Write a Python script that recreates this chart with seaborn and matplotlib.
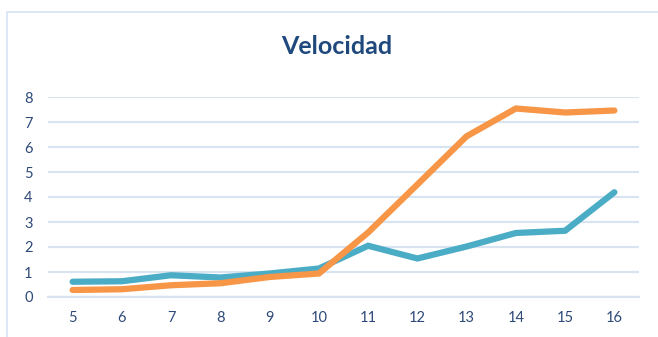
import matplotlib
matplotlib.use("Agg")
import matplotlib.pyplot as plt
import seaborn as sns
import pandas as pd
from matplotlib.patches import Rectangle
from matplotlib.ticker import FixedLocator

# Data
categories = [5, 6, 7, 8, 9, 10, 11, 12, 13, 14, 15, 16]
serie_azul = [0.61, 0.63, 0.87, 0.78, 0.94, 1.14, 2.05, 1.54, 2.02, 2.56, 2.65, 4.19]
serie_naranja = [0.28, 0.31, 0.47, 0.55, 0.80, 0.94, 2.58, 4.50, 6.43, 7.54, 7.38, 7.46]
y_ticks = [0, 1, 2, 3, 4, 5, 6, 7, 8]

sns.set_theme(style="white")
plt.rcParams["font.family"] = ["Lato", "DejaVu Sans"]

df = pd.DataFrame({
    "pos": list(range(len(categories))) * 2,
    "valor": serie_azul + serie_naranja,
    "serie": ["azul"] * len(categories) + ["naranja"] * len(categories),
})

fig = plt.figure(figsize=(6.58, 3.37), dpi=100)
fig.patch.set_facecolor("white")

# Chart-area frame
fig.add_artist(Rectangle((7 / 658, -0.2), 1.2, (337 - 12) / 337 + 0.2,
                         transform=fig.transFigure, fill=False,
                         edgecolor="#D6E3F3", linewidth=1.2))

ax = fig.add_axes([48 / 658, 40 / 337, 591 / 658, 200 / 337])
ax.set_facecolor("white")

sns.lineplot(data=df, x="pos", y="valor", hue="serie",
             palette={"azul": "#4BACC6", "naranja": "#F79646"},
             linewidth=4.5, legend=False, ax=ax, zorder=3)
for line in ax.lines:
    line.set_solid_capstyle("round")
    line.set_solid_joinstyle("miter")
    line.set_clip_on(False)

ax.set_xlim(-0.5, len(categories) - 0.5)
ax.set_ylim(0, 8)
ax.set_yticks(y_ticks)
ax.set_yticklabels([str(v) for v in y_ticks])
ax.set_xticks(range(len(categories)))
ax.set_xticklabels([str(c) for c in categories])
ax.xaxis.set_minor_locator(FixedLocator([i - 0.5 for i in range(len(categories) + 1)]))

grid_color = "#D9E4F2"
ax.grid(axis="y", color=grid_color, linewidth=1.6)
ax.set_axisbelow(True)
for side in ["top", "right", "left"]:
    ax.spines[side].set_visible(False)
ax.spines["bottom"].set_color(grid_color)
ax.spines["bottom"].set_linewidth(1.6)

label_color = "#2E4A78"
ax.tick_params(axis="y", length=0, pad=11, labelsize=10.5, labelcolor=label_color)
ax.tick_params(axis="x", which="major", length=0, pad=10, labelsize=10.5, labelcolor=label_color)
ax.tick_params(axis="x", which="minor", length=4, width=1.6, color=grid_color, direction="out")

ax.set_xlabel("")
ax.set_ylabel("")

fig.text(337 / 658, 1 - 47 / 337, "Velocidad", ha="center", va="center",
         fontsize=18, fontweight="bold", color="#1F497D")

fig.savefig("out.png", dpi=100)
